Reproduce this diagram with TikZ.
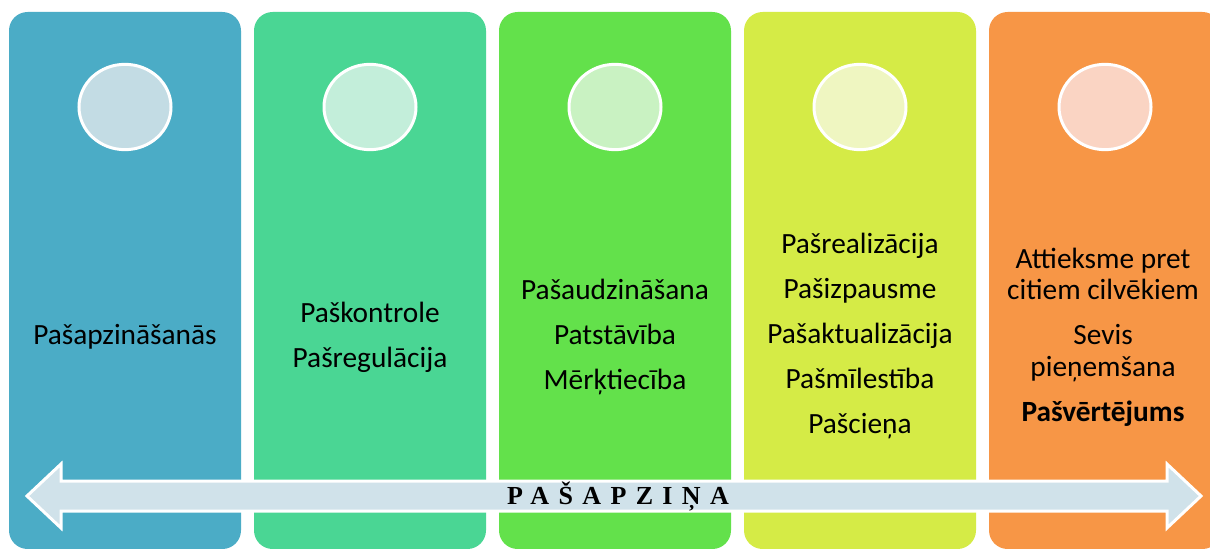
\documentclass[tikz,border=0pt]{standalone}
\usepackage{fontspec}
\setmainfont{Carlito}
\newfontfamily\spacedserif[LetterSpace=36]{Liberation Serif}

\definecolor{colA}{HTML}{4BACC6}
\definecolor{colB}{HTML}{4AD694}
\definecolor{colC}{HTML}{63E14B}
\definecolor{colD}{HTML}{D5EB46}
\definecolor{colE}{HTML}{F79646}
\definecolor{lightA}{HTML}{C3DCE4}
\definecolor{lightB}{HTML}{C3EEDA}
\definecolor{lightC}{HTML}{C9F2C2}
\definecolor{lightD}{HTML}{EFF6C1}
\definecolor{lightE}{HTML}{FAD4C3}
\definecolor{arrowfill}{HTML}{D0E2EA}

\begin{document}
\begin{tikzpicture}[x=0.75pt,y=-0.75pt,
    coltext/.style={font=\fontsize{22}{23.5}\selectfont,align=center,text=black}]

\clip (0,0) rectangle (1210,549);
\fill[white] (0,0) rectangle (1210,549);

% Columns with circles
\foreach \i/\main/\light in {0/colA/lightA,1/colB/lightB,2/colC/lightC,3/colD/lightD,4/colE/lightE} {
    \pgfmathsetmacro{\x}{9+\i*245} % spacing
    \fill[\main,rounded corners=14pt] (\x,12) rectangle (\x+232,549);
    \draw[white,line width=2.25pt,fill=\light] (\x+116,107) ellipse [x radius=34.5pt,y radius=32pt];
}

% Texts inside
\node[coltext] (t1) at (125,337) {Pašapzināšanās};
\node[coltext] (t2) at (370,337) {Paškontrole\\[10.25pt]Pašregulācija};
\node[coltext] (t3) at (615,337) {Pašaudzināšana\\[10.25pt]Patstāvība\\[10.25pt]Mērķtiecība};
\node[coltext] (t4) at (860,336) {Pašrealizācija\\[10.25pt]Pašizpausme\\[10.25pt]Pašaktualizācija\\[10.25pt]Pašmīlestība\\[10.25pt]Pašcieņa};
\node[coltext] (t5) at (1103,337) {Attieksme pret\\citiem cilvēkiem\\[10.25pt]Sevis\\pieņemšana\\[10.25pt]\textbf{Pašvērtējums}};

% Double arrow along the bottom
\draw[white,line width=2.25pt,fill=arrowfill,line join=miter]
    (27,496) -- (61,464) -- (61,481) -- (1167,481) -- (1167,464) -- (1201,496)
    -- (1167,528) -- (1167,511) -- (61,511) -- (61,528) -- cycle;

% Label on the arrow
\node[font=\spacedserif\bfseries\fontsize{19.5}{22}\selectfont] (pasapzina) at (618,497) {PAŠAPZIŅA};

\end{tikzpicture}
\end{document}
